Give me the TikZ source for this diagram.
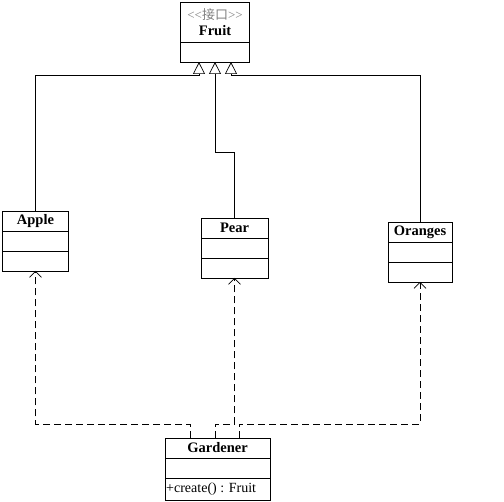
\documentclass[tikz,border=0pt]{standalone}
\usepackage{fontspec}
\setmainfont{Liberation Serif}
\newfontfamily\cjk{Noto Sans CJK SC}
\usepackage{tikz}
\usetikzlibrary{arrows.meta, positioning, calc}

\begin{document}
\begin{tikzpicture}[
    x=1pt, y=-1pt,
    every node/.style={font=\fontsize{14}{16}\selectfont},
    head/.style={draw, minimum width=#1, minimum height=20pt, inner sep=0pt, outer sep=0pt, font=\fontsize{14.5}{16}\selectfont\bfseries},
    slot/.style={draw, minimum width=#1, minimum height=20pt, inner sep=0pt, outer sep=0pt, anchor=north},
    realize/.style={-{Triangle[open, length=12pt, width=12pt]}, line width=0.7pt},
    uses/.style={-{Straight Barb[length=6pt, width=12pt]}, line width=0.7pt, dash pattern=on 7pt off 4pt}
]

\useasboundingbox (0,0) rectangle (504,502);

% Fruit interface
\node[head=69pt, minimum height=40pt, anchor=north, align=center] (fruit) at (215,2)
    {{\normalfont\fontsize{13}{17}\selectfont\color{gray}<{}<{\cjk 接口}>{}>}\\Fruit};
\node[slot=69pt] (fruitbody) at (fruit.south) {};

% Apple
\node[head=66pt, anchor=north] (apple) at (35.5,211) {Apple};
\node[slot=66pt] (apple1) at (apple.south) {};
\node[slot=66pt] (apple2) at (apple1.south) {};

% Pear
\node[head=67pt, anchor=north] (pear) at (234.5,218) {Pear};
\node[slot=67pt] (pear1) at (pear.south) {};
\node[slot=67pt] (pear2) at (pear1.south) {};

% Oranges
\node[head=64pt, anchor=north] (oranges) at (420,222) {Oranges};
\node[slot=64pt] (oranges1) at (oranges.south) {};
\node[slot=64pt] (oranges2) at (oranges1.south) {};

% Gardener
\node[head=105pt, anchor=north] (gardener) at (217.5,438) {Gardener};
\node[slot=105pt] (gardener1) at (gardener.south) {};
\node[slot=105pt, minimum height=22pt] (gardener2) at (gardener1.south) {};
\node[anchor=west, inner sep=0pt] at ([xshift=1pt]gardener2.west) {+create() : Fruit};

% Realization arrows
\coordinate (pearbend) at (215,152);
\draw[realize] (apple.north) |- ([xshift=-16pt, yshift=-13pt]fruitbody.south) -- ([xshift=-16pt]fruitbody.south);
\draw[realize] (pear.north) |- (pearbend) -- (fruitbody.south);
\draw[realize] (oranges.north) |- ([xshift=16pt, yshift=-13pt]fruitbody.south) -- ([xshift=16pt]fruitbody.south);

% Dependency arrows
\draw[uses] ([xshift=-27.5pt]gardener.north) -- ++(0,-14) -| (apple2.south);
\draw[uses] ([xshift=-2.5pt]gardener.north) -- ++(0,-14) -| (pear2.south);
\draw[uses] ([xshift=21.5pt]gardener.north) -- ++(0,-14) -| (oranges2.south);

\end{tikzpicture}
\end{document}
